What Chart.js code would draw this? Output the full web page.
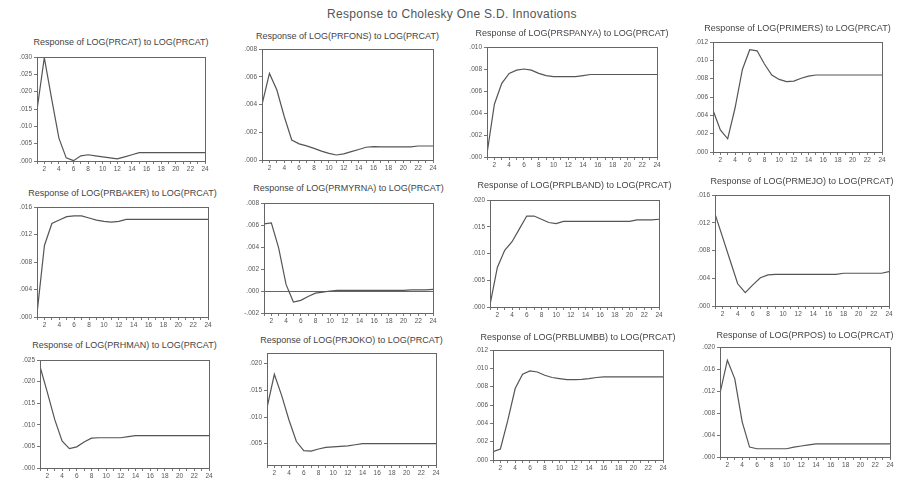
<!DOCTYPE html>
<html><head><meta charset="utf-8">
<script src="https://cdn.jsdelivr.net/npm/chart.js@4"></script>
<style>
body{margin:0;background:#fff;width:904px;height:480px;position:relative;overflow:hidden;font-family:'Liberation Sans',Arial,sans-serif}
#main{position:absolute;left:0;width:904px;top:7px;text-align:center;font-size:12px;color:#555;letter-spacing:0.3px}
canvas{position:absolute}
.pt{position:absolute;width:260px;text-align:center;font-size:9px;line-height:10px;color:#444;white-space:nowrap}
</style></head><body>
<div id="main">Response to Cholesky One S.D. Innovations</div>
<script>
const periods = [1,2,3,4,5,6,7,8,9,10,11,12,13,14,15,16,17,18,19,20,21,22,23,24];

const titles = [
  "Response of LOG(PRCAT) to LOG(PRCAT)",
  "Response of LOG(PRFONS) to LOG(PRCAT)",
  "Response of LOG(PRSPANYA) to LOG(PRCAT)",
  "Response of LOG(PRIMERS) to LOG(PRCAT)",
  "Response of LOG(PRBAKER) to LOG(PRCAT)",
  "Response of LOG(PRMYRNA) to LOG(PRCAT)",
  "Response of LOG(PRPLBAND) to LOG(PRCAT)",
  "Response of LOG(PRMEJO) to LOG(PRCAT)",
  "Response of LOG(PRHMAN) to LOG(PRCAT)",
  "Response of LOG(PRJOKO) to LOG(PRCAT)",
  "Response of LOG(PRBLUMBB) to LOG(PRCAT)",
  "Response of LOG(PRPOS) to LOG(PRCAT)"
];

const resp1 = [.0147,.0298,.0180,.0066,.0009,.0001,.0015,.0018,.0015,.0012,.0009,.0006,.0012,.0018,.0024,.0024,.0024,.0024,.0024,.0024,.0024,.0024,.0024,.0024];
const resp2 = [.0040,.00624,.00504,.00312,.00144,.00116,.00102,.00084,.00064,.00048,.00036,.00044,.0006,.00076,.00092,.00096,.00094,.00094,.00094,.00094,.00094,.00101,.00101,.00101];
const resp3 = [.0003,.0048,.0067,.0076,.0079,.0080,.0079,.0076,.0074,.0073,.0073,.0073,.0073,.0074,.0075,.0075,.0075,.0075,.0075,.0075,.0075,.0075,.0075,.0075];
const resp4 = [.00456,.0024,.00144,.0048,.009,.01116,.01104,.0096,.0084,.00792,.00768,.00774,.00804,.00828,.0084,.0084,.0084,.0084,.0084,.0084,.0084,.0084,.0084,.0084];
const resp5 = [.0005,.0104,.0136,.0141,.0146,.0147,.0147,.0144,.0141,.0139,.0138,.0139,.0142,.0142,.0142,.0142,.0142,.0142,.0142,.0142,.0142,.0142,.0142,.0142];
const resp6 = [.0061,.0062,.0039,.0006,-.0010,-.00085,-.0005,-.0002,-.0001,.0000,.00005,.00005,.00005,.00005,.00005,.00005,.00005,.00005,.00005,.00005,.0001,.0001,.0001,.00015];
const resp7 = [.0004,.0074,.0106,.0122,.0146,.0170,.0170,.0164,.0158,.0156,.0160,.0160,.0160,.0160,.0160,.0160,.0160,.0160,.0160,.0160,.0163,.0163,.0163,.0164];
const resp8 = [.01328,.00992,.00656,.0032,.00192,.00304,.00408,.00448,.00456,.00456,.00456,.00456,.00456,.00456,.00456,.00456,.00456,.00472,.00472,.00472,.00472,.00472,.00472,.00496];
const resp9 = [.0235,.0175,.01125,.00625,.0045,.0049,.006,.0069,.007,.007,.007,.007,.00725,.0075,.0075,.0075,.0075,.0075,.0075,.0075,.0075,.0075,.0075,.0075];
const resp10 = [.0117,.0180,.0140,.0094,.0054,.0037,.0036,.0040,.0043,.0044,.0045,.0046,.0048,.0050,.0050,.0050,.0050,.0050,.0050,.0050,.0050,.0050,.0050,.0050];
const resp11 = [.00091,.0012,.00432,.0078,.00936,.00972,.0096,.00924,.009,.00888,.00876,.00876,.0088,.00888,.009,.00906,.00906,.00906,.00906,.00906,.00906,.00906,.00906,.00906];
const resp12 = [.0116,.0176,.0142,.0064,.0018,.0015,.0015,.0015,.0015,.0015,.0018,.0020,.0022,.0024,.0024,.0024,.0024,.0024,.0024,.0024,.0024,.0024,.0024,.0024];

const tick1 = [0,.005,.010,.015,.020,.025,.030];
const tick2 = [0,.002,.004,.006,.008];
const tick3 = [0,.002,.004,.006,.008,.010];
const tick4 = [0,.002,.004,.006,.008,.010,.012];
const tick5 = [0,.004,.008,.012,.016];
const tick6 = [-.002,0,.002,.004,.006,.008];
const tick7 = [0,.005,.010,.015,.020];
const tick8 = [0,.004,.008,.012,.016];
const tick9 = [0,.005,.010,.015,.020,.025];
const tick10 = [.005,.010,.015,.020];
const tick11 = [0,.002,.004,.006,.008,.010,.012];
const tick12 = [0,.004,.008,.012,.016,.020];

const yMin = [0,0,0,0,0,-.002,0,0,0,.001,0,0];
const yMax = [.030,.008,.010,.012,.016,.008,.020,.016,.025,.022,.012,.020];

const series = [resp1,resp2,resp3,resp4,resp5,resp6,resp7,resp8,resp9,resp10,resp11,resp12];
const ticksList = [tick1,tick2,tick3,tick4,tick5,tick6,tick7,tick8,tick9,tick10,tick11,tick12];

// layout: plot box left, top, right, bottom, title y
const boxes = [
  [37,57,205,161,42],[262,49,433,160,36],[487,47,657,157,33],[713,42,882,152,28],
  [37,207,208,317,193],[264,203,433,313,188],[490,200,659,307,185],[715,195,889,306,181],
  [40,360,209,468,345],[267,353,436,465,340],[493,350,663,460,337],[720,347,890,457,335]
];

function fmt(v){
  let s = Math.abs(v) < 1e-9 ? '.000' : v.toFixed(3);
  s = s.replace(/^(-?)0\./,'$1.');
  return s;
}

const framePlugin = {
  id:'frame',
  beforeDatasetsDraw(chart){
    const y = chart.scales.y, a = chart.chartArea, ctx = chart.ctx;
    if (y.min < 0 && y.max > 0){
      const py = Math.round(y.getPixelForValue(0)) + .5;
      ctx.save(); ctx.strokeStyle='#666'; ctx.lineWidth=1;
      ctx.beginPath(); ctx.moveTo(a.left,py); ctx.lineTo(a.right,py); ctx.stroke(); ctx.restore();
    }
  },
  afterDraw(chart){
    const {ctx, chartArea:a} = chart;
    ctx.save();
    ctx.strokeStyle='#666'; ctx.lineWidth=1;
    ctx.strokeRect(Math.round(a.left)+.5, Math.round(a.top)+.5, Math.round(a.right-a.left), Math.round(a.bottom-a.top));
    ctx.restore();
  }
};

boxes.forEach((b, i) => {
  const [L,T,R,B,ty] = b;
  const t = document.createElement('div');
  t.className = 'pt';
  t.textContent = titles[i];
  t.style.left = ((L + R) / 2 - 130) + 'px';
  t.style.top = (ty - 5) + 'px';
  document.body.appendChild(t);

  const cl = L - 34, ct = ty - 8;
  const w = R - L + 34 + 10, h = B - ct + 16;
  const cv = document.createElement('canvas');
  cv.width = w; cv.height = h;
  cv.style.left = cl + 'px'; cv.style.top = ct + 'px';
  cv.style.width = w + 'px'; cv.style.height = h + 'px';
  document.body.appendChild(cv);
  const tk = ticksList[i];
  new Chart(cv, {
    type:'line',
    data:{ datasets:[{ data: periods.map((p,j)=>({x:p, y:series[i][j]})), borderColor:'#555', borderWidth:1.2, pointRadius:0, tension:0, fill:false }] },
    options:{
      responsive:false, animation:false, devicePixelRatio:1,
      layout:{ padding:{ top: T - ct, right: 10, bottom: 2, left: 0 } },
      plugins:{ legend:{display:false}, tooltip:{enabled:false}, title:{display:false} },
      scales:{
        x:{ type:'linear', min:1, max:24,
            afterBuildTicks: s => { s.ticks = periods.map(v => ({value:v})); },
            afterFit: s => { s.height = 14; },
            ticks:{ autoSkip:false, maxRotation:0, minRotation:0, padding:1, color:'#555',
                    font:{size:6.5, family:"'Liberation Sans', Arial, sans-serif"},
                    callback: v => (v % 2 === 0 ? String(v) : '') },
            grid:{ drawOnChartArea:false, drawTicks:true, tickLength:3, color:'#777' },
            border:{ display:false } },
        y:{ min:yMin[i], max:yMax[i],
            afterBuildTicks: s => { s.ticks = tk.map(v => ({value:v})); },
            afterFit: s => { s.width = 34; },
            ticks:{ padding:2, color:'#555', font:{size:6.5, family:"'Liberation Sans', Arial, sans-serif"},
                    callback: v => fmt(v) },
            grid:{ drawOnChartArea:false, drawTicks:true, tickLength:3, color:'#777' },
            border:{ display:false } }
      }
    },
    plugins:[framePlugin]
  });
});
</script>
</body></html>
